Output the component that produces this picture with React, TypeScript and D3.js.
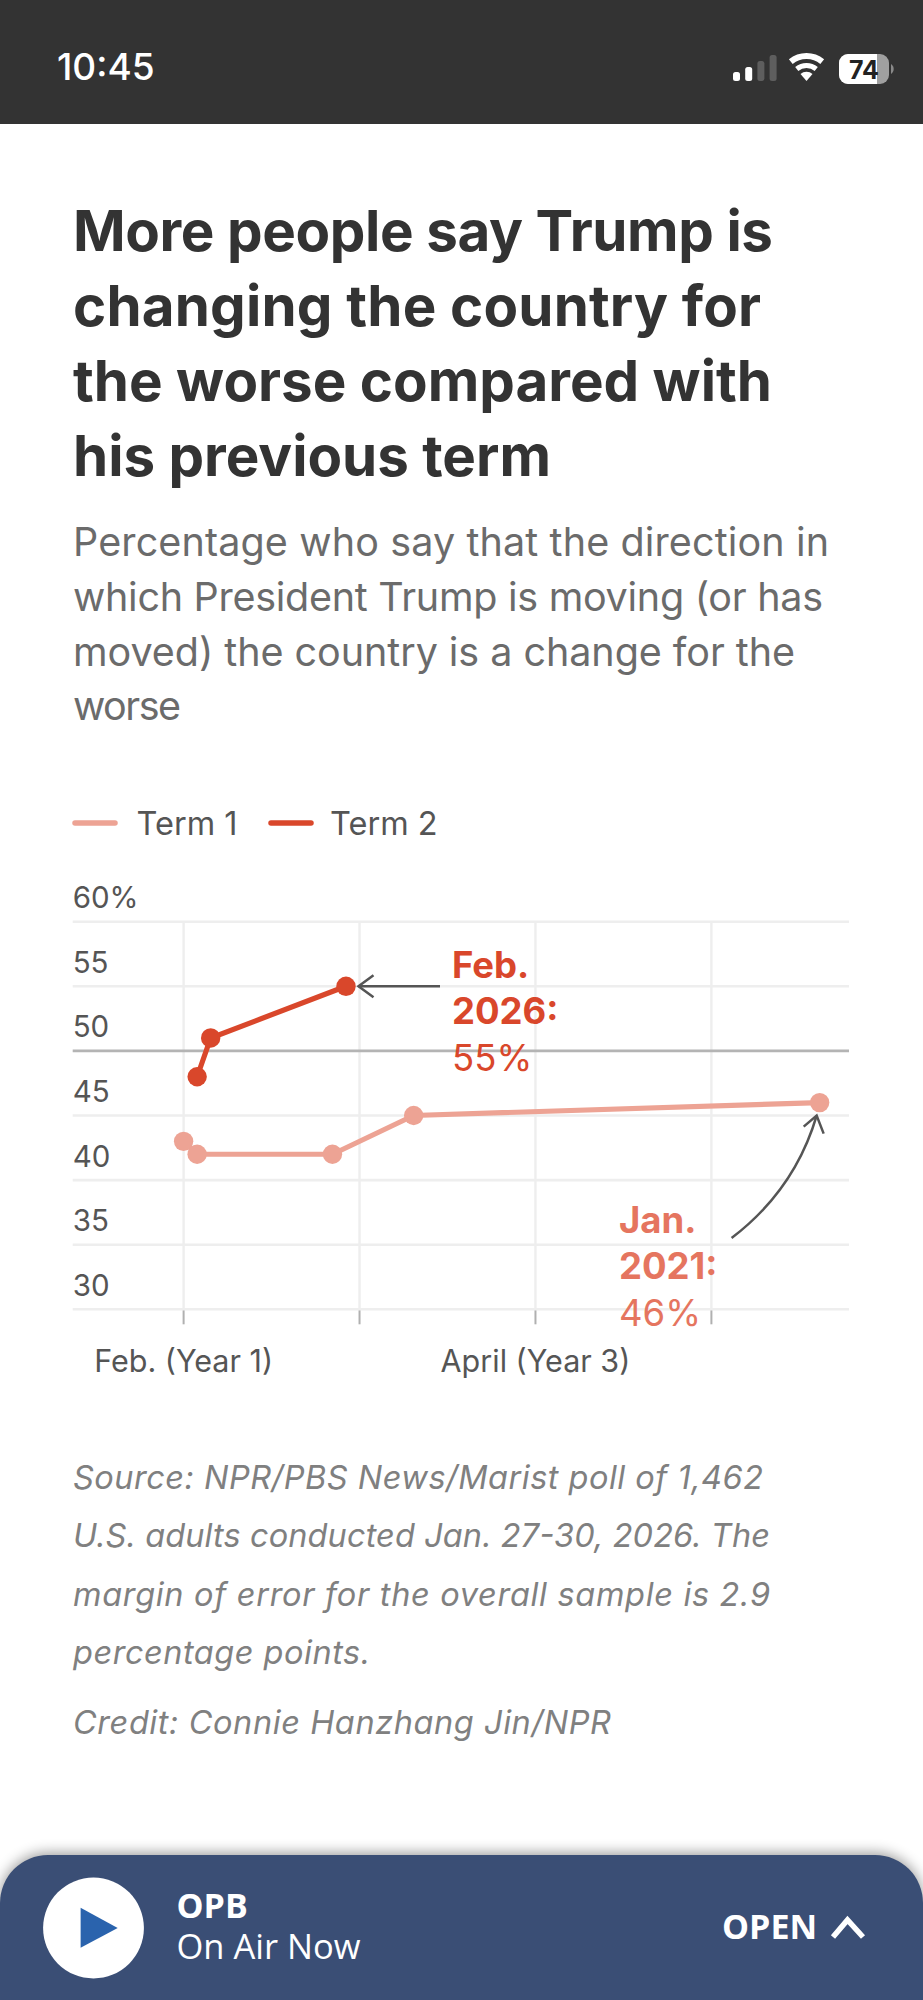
import { useEffect, useRef } from 'react'
import * as d3 from 'd3'

const titleLines = ['More people say Trump is', 'changing the country for', 'the worse compared with', 'his previous term']
const titleWidths = [700, 688, 699, 478]
const subtitleLines = [
  'Percentage who say that the direction in',
  'which President Trump is moving (or has',
  'moved) the country is a change for the',
  'worse',
]
const subtitleWidths = [756, 750, 722, 108]
const sourceLines = [
  'Source: NPR/PBS News/Marist poll of 1,462',
  'U.S. adults conducted Jan. 27-30, 2026. The',
  'margin of error for the overall sample is 2.9',
  'percentage points.',
  ]
const sourceWidths = [690, 697, 697, 297]
const credit = 'Credit: Connie Hanzhang Jin/NPR'
const creditWidth = 538

// months since February of year 1
const term1Months = [0, 1, 11, 17, 47]
const term1Values = [43, 42, 42, 45, 46]
const term2Months = [1, 2, 12]
const term2Values = [48, 51, 55]

const yTicks = [60, 55, 50, 45, 40, 35, 30]
const xTicks = [0, 13, 26, 39]
const xLabels = ['Feb. (Year 1)', '', 'April (Year 3)', '']

const WIDTH = 923
const HEIGHT = 2000
const FONT = 'Inter, sans-serif'

const RED = '#d9472b'
const PINK = '#eda394'
const PINK_TEXT = '#e5755f'
const GRID = '#eeeeee'

export default function App() {
  const svgRef = useRef<SVGSVGElement>(null)

  useEffect(() => {
    if (!svgRef.current) return
    const svg = d3.select(svgRef.current)
    svg.selectAll('*').remove()

    const text = (
      parent: any,
      str: string,
      x: number,
      y: number,
      size: number,
      fill: string,
      weight = 400,
      family = FONT
    ) =>
      parent
        .append('text')
        .attr('x', x)
        .attr('y', y)
        .attr('font-family', family)
        .attr('font-size', size)
        .attr('font-weight', weight)
        .attr('fill', fill)
        .text(str)

    svg.append('rect').attr('width', WIDTH).attr('height', HEIGHT).attr('fill', '#ffffff')

    // Status bar
    svg.append('rect').attr('width', WIDTH).attr('height', 124).attr('fill', '#333333')
    text(svg, '10:45', 57, 80, 37, '#ffffff', 500)
    const signalHeights = [9, 14, 20, 26]
    signalHeights.forEach((h, i) => {
      svg
        .append('rect')
        .attr('x', 733 + i * 12.2)
        .attr('y', 81 - h)
        .attr('width', 7)
        .attr('height', h)
        .attr('rx', 2.5)
        .attr('fill', i < 2 ? '#ffffff' : '#5e5e5e')
    })
    const wifi = svg.append('g').attr('transform', 'translate(806.5,81)')
    const wifiArc = d3.arc()
    ;[
      [22, 28],
      [13, 18],
    ].forEach(([inner, outer]) => {
      wifi
        .append('path')
        .attr('d', wifiArc({ innerRadius: inner, outerRadius: outer, startAngle: -0.68, endAngle: 0.68 } as any))
        .attr('fill', '#ffffff')
    })
    wifi.append('path').attr('d', 'M-6,-7 A9,9 0 0 1 6,-7 L0,0 Z').attr('fill', '#ffffff')
    svg.append('rect').attr('x', 839).attr('y', 54).attr('width', 50).attr('height', 30).attr('rx', 9).attr('fill', '#a0a0a0')
    svg.append('path').attr('d', 'M848,54 H877 V84 H848 A9,9 0 0 1 839,75 V63 A9,9 0 0 1 848,54 Z').attr('fill', '#ffffff')
    svg.append('path').attr('d', 'M891,64 A6,6 0 0 1 891,74 Z').attr('fill', '#8a8a8a')
    text(svg, '74', 864, 79, 25, '#222222', 700).attr('text-anchor', 'middle')

    // Title and subtitle
    titleLines.forEach((l, i) =>
      text(svg, l, 73, 251 + i * 75, 56.5, '#333333', 700)
        .attr('textLength', titleWidths[i])
        .attr('lengthAdjust', 'spacing')
    )
    subtitleLines.forEach((l, i) =>
      text(svg, l, 73, 556 + i * 54.8, 39.5, '#6b6b6b')
        .attr('textLength', subtitleWidths[i])
        .attr('lengthAdjust', 'spacing')
    )

    // Legend
    const legendItems = [
      { label: 'Term 1', color: PINK, x: 72, labelX: 136.5 },
      { label: 'Term 2', color: RED, x: 268, labelX: 330 },
    ]
    legendItems.forEach((d) => {
      svg
        .append('line')
        .attr('x1', d.x + 3)
        .attr('x2', d.x + 43)
        .attr('y1', 823)
        .attr('y2', 823)
        .attr('stroke', d.color)
        .attr('stroke-width', 5.5)
        .attr('stroke-linecap', 'round')
      text(svg, d.label, d.labelX, 835, 32.5, '#555555')
    })

    // Scales
    const x = d3.scaleLinear().domain([0, 39]).range([183.6, 711.4])
    const y = d3.scaleLinear().domain([30, 60]).range([1309.3, 921.7])
    const gridLeft = 72.7
    const gridRight = 849

    // Vertical grid and ticks
    xTicks.forEach((t, i) => {
      svg
        .append('line')
        .attr('x1', x(t))
        .attr('x2', x(t))
        .attr('y1', y(60))
        .attr('y2', y(30))
        .attr('stroke', GRID)
        .attr('stroke-width', 2.4)
      svg
        .append('line')
        .attr('x1', x(t))
        .attr('x2', x(t))
        .attr('y1', y(30))
        .attr('y2', y(30) + 15)
        .attr('stroke', '#b0b0b0')
        .attr('stroke-width', 2)
      if (xLabels[i]) {
        text(svg, xLabels[i], x(t), 1372, 30.5, '#555555').attr('text-anchor', 'middle')
      }
    })

    // Horizontal grid and labels
    yTicks.forEach((t) => {
      svg
        .append('line')
        .attr('x1', gridLeft)
        .attr('x2', gridRight)
        .attr('y1', y(t))
        .attr('y2', y(t))
        .attr('stroke', t === 50 ? '#b4b4b4' : GRID)
        .attr('stroke-width', 2.6)
      text(svg, t === 60 ? '60%' : String(t), gridLeft, y(t) - 13.5, 29.5, '#555555')
    })

    // Series
    const series = [
      { months: term1Months, values: term1Values, color: PINK },
      { months: term2Months, values: term2Values, color: RED },
    ]
    series.forEach((s) => {
      const pts = s.months.map((m, i) => [x(m), y(s.values[i])] as [number, number])
      svg
        .append('path')
        .attr('d', d3.line()(pts))
        .attr('fill', 'none')
        .attr('stroke', s.color)
        .attr('stroke-width', 5.2)
      pts.forEach((p) => {
        svg.append('circle').attr('cx', p[0]).attr('cy', p[1]).attr('r', 9.7).attr('fill', s.color)
      })
    })

    // Annotations
    const noteFeb = ['Feb.', '2026:', '55%']
    const noteJan = ['Jan.', '2021:', '46%']
    noteFeb.forEach((l, i) => text(svg, l, 452, 977.7 + i * 46.5, 36.5, RED, i < 2 ? 700 : 400))
    noteJan.forEach((l, i) => text(svg, l, 619, 1232.7 + i * 46.5, 36.5, PINK_TEXT, i < 2 ? 700 : 400))

    const arrowStyle = (p: any) =>
      p.attr('fill', 'none').attr('stroke', '#555555').attr('stroke-width', 2.5)

    const febX = x(12) + 12.5
    const febY = y(55)
    arrowStyle(svg.append('path')).attr('d', `M440,${febY} H${febX}`)
    arrowStyle(svg.append('path')).attr('d', `M${febX + 15},${febY - 11} L${febX},${febY} L${febX + 15},${febY + 11}`)

    const janX = x(47) - 3
    const janY = y(46) + 13
    arrowStyle(svg.append('path')).attr('d', `M731.6,1238 Q${janX - 22},1190 ${janX},${janY}`)
    arrowStyle(svg.append('path')).attr('d', `M${janX - 13},${janY + 11} L${janX},${janY} L${janX + 7},${janY + 18}`)

    // Source
    sourceLines.forEach((l, i) => {
      text(svg, l, 73, 1489 + i * 58.4, 32.5, '#808080')
        .attr('font-style', 'italic')
        .attr('textLength', sourceWidths[i])
        .attr('lengthAdjust', 'spacing')
    })
    text(svg, credit, 73, 1734, 32.5, '#808080')
      .attr('font-style', 'italic')
      .attr('textLength', creditWidth)
      .attr('lengthAdjust', 'spacing')

    // Player bar
    const defs = svg.append('defs')
    defs
      .append('filter')
      .attr('id', 'bar-shadow')
      .attr('x', '-10%')
      .attr('y', '-30%')
      .attr('width', '120%')
      .attr('height', '160%')
      .append('feGaussianBlur')
      .attr('stdDeviation', 7)
    svg
      .append('rect')
      .attr('x', 0)
      .attr('y', 1853)
      .attr('width', WIDTH)
      .attr('height', 200)
      .attr('rx', 48)
      .attr('fill', '#000000')
      .attr('opacity', 0.4)
      .attr('filter', 'url(#bar-shadow)')
    svg
      .append('rect')
      .attr('x', 0)
      .attr('y', 1855)
      .attr('width', WIDTH)
      .attr('height', 200)
      .attr('rx', 48)
      .attr('fill', '#3a4e75')
    svg.append('circle').attr('cx', 93.5).attr('cy', 1928).attr('r', 50.4).attr('fill', '#ffffff')
    svg.append('path').attr('d', 'M80.6,1907.7 L117.7,1928 L80.6,1947.7 Z').attr('fill', '#2a63ad')
    text(svg, 'OPB', 176.5, 1918, 34, '#ffffff', 700, '"Open Sans", sans-serif')
    text(svg, 'On Air Now', 176.5, 1959, 34.5, '#ffffff', 400, '"Open Sans", sans-serif')
    text(svg, 'OPEN', 722, 1939, 34, '#ffffff', 700, '"Open Sans", sans-serif')
    svg
      .append('path')
      .attr('d', 'M833,1937 L847.5,1920 L863,1937')
      .attr('fill', 'none')
      .attr('stroke', '#ffffff')
      .attr('stroke-width', 5.5)
  }, [])

  return (
    <svg
      ref={svgRef}
      width={WIDTH}
      height={HEIGHT}
      style={{ position: 'absolute', left: 0, top: 0 }}
    />
  )
}
